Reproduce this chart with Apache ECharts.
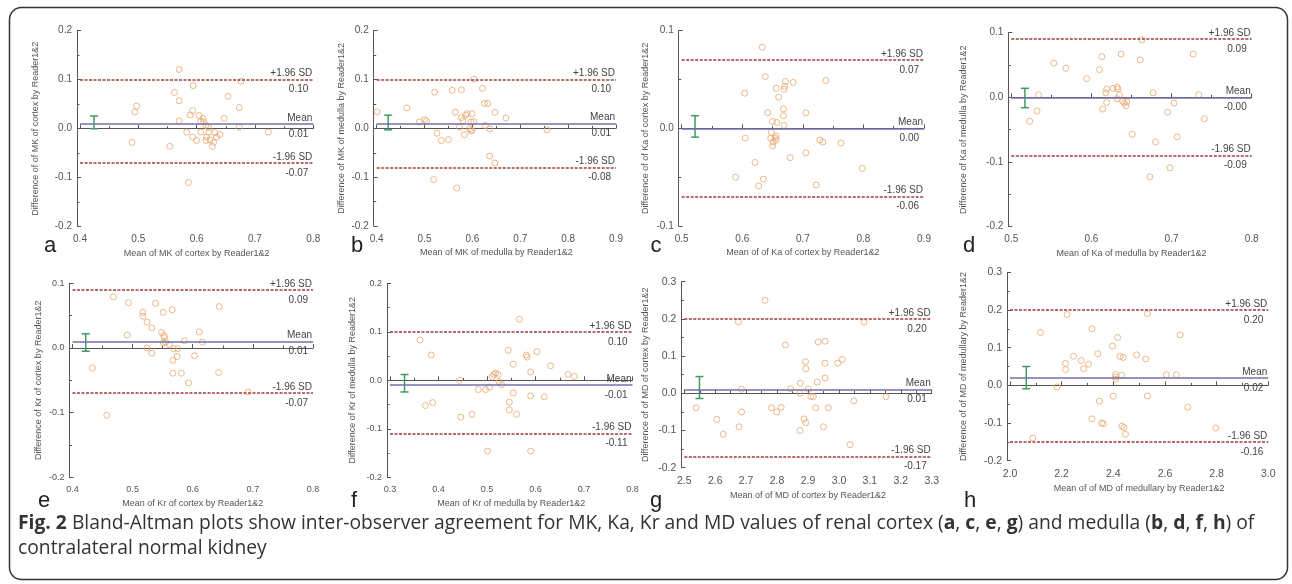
<!DOCTYPE html>
<html><head><meta charset="utf-8">
<script src="https://cdn.jsdelivr.net/npm/echarts@6/dist/echarts.min.js"></script>
<style>html,body{margin:0;padding:0;background:#fff}#c{width:1292px;height:584px}</style>
</head><body><div id="c"></div>
<script>
// ---------- DATA ----------
const panelLetters = ['a','b','c','d','e','f','g','h'];
const xAxisNames = ['Mean of MK of cortex by Reader1&2','Mean of MK of medulla by Reader1&2','Mean of of Ka of cortex by Reader1&2','Mean of Ka of medulla by Reader1&2','Mean of Kr of cortex by Reader1&2','Mean of Kr of medulla by Reader1&2','Mean of of MD of cortex by Reader1&2','Mean of of MD of medullary by Reader1&2'];
const yAxisNames = ['Difference of of MK of cortex by Reader1&2','Difference of MK of medulla by Reader1&2','Difference of of Ka of cortex by Reader1&2','Difference of Ka of medulla by Reader1&2','Difference of Kr of cortex by Reader1&2','Difference of Kr of medulla by Reader1&2','Difference of of MD of cortex by Reader1&2','Difference of of MD of medullary by Reader1&2'];
const xMin = [0.4,0.4,0.5,0.5,0.4,0.3,2.5,2.0];
const xMax = [0.8,0.9,0.9,0.8,0.8,0.8,3.3,3.0];
const xStep = [0.1,0.1,0.1,0.1,0.1,0.1,0.1,0.2];
const yMin = [-0.2,-0.2,-0.1,-0.2,-0.2,-0.2,-0.2,-0.2];
const yMax = [0.2,0.2,0.1,0.1,0.1,0.2,0.3,0.3];
const yStep = [0.1,0.1,0.1,0.1,0.1,0.1,0.1,0.1];

const upperSD  = [0.098, 0.103, 0.069, 0.089, 0.087, 0.103, 0.196, 0.201];
const meanDiff = [0.013, 0.012, 0.002, -0.001, 0.008, -0.006, 0.015, 0.024];
const lowerSD  = [-0.071, -0.079, -0.065, -0.089, -0.070, -0.114, -0.166, -0.155];
const upperLabel = ['0.10','0.10','0.07','0.09','0.09','0.10','0.20','0.20'];
const meanLabel  = ['0.01','0.01','0.00','-0.00','0.01','-0.01','0.01','0.02'];
const lowerLabel = ['-0.07','-0.08','-0.06','-0.09','-0.07','-0.11','-0.17','-0.16'];
const ciX    = [0.424, 0.424, 0.522, 0.517, 0.422, 0.330, 2.549, 2.063];
const ciLow  = [0.000, -0.003, -0.009, -0.016, -0.005, -0.024, -0.014, -0.009];
const ciHigh = [0.026, 0.027, 0.013, 0.014, 0.022, 0.012, 0.045, 0.050];

const ptsA = [[0.570,0.121],[0.497,0.046],[0.494,0.034],[0.489,-0.028],[0.562,0.074],[0.570,0.057],[0.594,0.088],[0.570,0.016],[0.593,0.037],[0.589,0.028],[0.604,0.027],[0.611,0.021],[0.607,0.015],[0.612,0.014],[0.616,0.007],[0.620,0.003],[0.583,-0.007],[0.593,-0.017],[0.600,-0.024],[0.607,-0.007],[0.617,-0.017],[0.621,-0.007],[0.623,-0.023],[0.629,-0.028],[0.631,-0.008],[0.640,-0.012],[0.634,-0.017],[0.627,-0.036],[0.616,-0.024],[0.554,-0.036],[0.586,-0.110],[0.647,0.021],[0.654,0.066],[0.673,0.043],[0.673,0.003],[0.676,0.097],[0.723,-0.007]];
const ptsB = [[0.401,0.034],[0.463,0.042],[0.489,0.013],[0.500,0.018],[0.504,0.015],[0.521,0.074],[0.526,-0.010],[0.535,-0.025],[0.550,-0.023],[0.558,0.078],[0.577,0.079],[0.564,0.033],[0.577,0.022],[0.580,0.016],[0.586,0.027],[0.589,0.030],[0.583,-0.013],[0.573,0.002],[0.599,0.030],[0.597,0.013],[0.594,-0.001],[0.597,-0.005],[0.599,-0.004],[0.603,0.014],[0.603,0.101],[0.621,0.082],[0.625,0.051],[0.632,0.051],[0.627,0.006],[0.636,-0.001],[0.647,0.033],[0.636,-0.057],[0.647,-0.071],[0.670,0.021],[0.519,-0.105],[0.567,-0.122],[0.756,-0.003]];
const ptsC = [[0.633,0.083],[0.638,0.053],[0.604,0.036],[0.605,-0.010],[0.642,0.016],[0.650,0.007],[0.657,0.006],[0.656,0.041],[0.660,0.032],[0.648,-0.004],[0.647,-0.010],[0.651,-0.014],[0.650,-0.018],[0.654,-0.010],[0.656,-0.008],[0.656,-0.012],[0.669,0.040],[0.670,0.043],[0.671,0.048],[0.668,0.020],[0.668,0.013],[0.669,0.003],[0.684,0.047],[0.679,-0.030],[0.705,0.016],[0.705,-0.025],[0.621,-0.035],[0.589,-0.050],[0.627,-0.059],[0.635,-0.052],[0.722,-0.058],[0.728,-0.012],[0.733,-0.014],[0.738,0.049],[0.763,-0.015],[0.798,-0.041]];
const ptsD = [[0.534,0.004],[0.532,-0.021],[0.523,-0.037],[0.553,0.053],[0.568,0.045],[0.594,0.029],[0.610,0.043],[0.613,0.063],[0.637,0.067],[0.619,0.013],[0.618,0.007],[0.627,0.014],[0.632,0.016],[0.633,0.013],[0.635,0.004],[0.632,-0.002],[0.639,-0.006],[0.641,-0.009],[0.643,-0.013],[0.644,-0.007],[0.619,-0.008],[0.614,-0.018],[0.661,0.058],[0.663,0.089],[0.651,-0.057],[0.677,0.007],[0.680,-0.069],[0.673,-0.123],[0.695,-0.023],[0.703,-0.009],[0.698,-0.109],[0.707,-0.061],[0.727,0.067],[0.734,0.004],[0.741,-0.033]];
const ptsE = [[0.468,0.079],[0.493,0.070],[0.491,0.020],[0.433,-0.031],[0.457,-0.104],[0.517,0.055],[0.517,0.049],[0.524,0.040],[0.532,0.031],[0.524,0.000],[0.532,-0.008],[0.538,0.069],[0.551,0.055],[0.566,0.059],[0.548,0.024],[0.552,0.019],[0.553,0.016],[0.551,0.008],[0.555,0.009],[0.561,0.005],[0.568,-0.001],[0.575,-0.001],[0.574,-0.013],[0.567,-0.019],[0.567,-0.039],[0.581,-0.039],[0.586,0.011],[0.593,-0.054],[0.603,-0.012],[0.611,0.025],[0.616,0.009],[0.643,-0.038],[0.644,0.064],[0.692,-0.068]];
const ptsF = [[0.362,0.083],[0.385,0.052],[0.373,-0.052],[0.388,-0.046],[0.443,0.000],[0.446,-0.076],[0.469,-0.070],[0.482,-0.019],[0.497,-0.019],[0.505,-0.014],[0.511,0.007],[0.514,0.012],[0.518,0.015],[0.523,0.012],[0.525,-0.003],[0.530,-0.009],[0.544,0.062],[0.554,0.033],[0.554,-0.026],[0.546,-0.045],[0.546,-0.061],[0.561,-0.070],[0.567,0.126],[0.581,0.052],[0.583,0.048],[0.590,0.017],[0.590,-0.032],[0.603,0.059],[0.618,-0.034],[0.631,0.030],[0.667,0.012],[0.680,0.008],[0.501,-0.146],[0.590,-0.146]];
const ptsG = [[2.761,0.250],[2.538,-0.039],[2.605,-0.070],[2.626,-0.110],[2.677,-0.090],[2.675,0.192],[2.685,0.011],[2.685,-0.050],[2.782,-0.039],[2.799,-0.050],[2.813,-0.038],[2.827,0.130],[2.844,0.012],[2.875,0.027],[2.874,0.000],[2.874,-0.100],[2.892,0.085],[2.893,0.066],[2.887,-0.069],[2.893,-0.079],[2.901,0.011],[2.909,-0.009],[2.917,-0.009],[2.925,-0.039],[2.930,0.030],[2.933,0.138],[2.955,0.140],[2.955,0.081],[2.955,0.041],[2.950,-0.090],[2.966,-0.039],[2.996,0.081],[3.011,0.091],[3.036,-0.138],[3.048,-0.020],[3.081,0.191],[3.152,-0.009]];
const ptsH = [[2.088,-0.140],[2.118,0.140],[2.182,-0.004],[2.221,0.188],[2.215,0.058],[2.215,0.042],[2.246,0.077],[2.276,0.066],[2.285,0.044],[2.304,0.056],[2.317,0.150],[2.317,-0.089],[2.340,0.084],[2.346,-0.042],[2.355,-0.100],[2.362,-0.102],[2.397,0.104],[2.400,-0.029],[2.409,0.029],[2.409,0.022],[2.409,0.016],[2.417,0.127],[2.426,0.077],[2.438,0.074],[2.432,0.027],[2.433,-0.108],[2.441,-0.112],[2.447,-0.130],[2.490,0.081],[2.526,0.070],[2.532,0.190],[2.532,-0.028],[2.605,0.028],[2.644,0.028],[2.659,0.134],[2.688,-0.058],[2.797,-0.113]];
const allPoints = [ptsA, ptsB, ptsC, ptsD, ptsE, ptsF, ptsG, ptsH];

const captionBold = 'Fig. 2';
const captionText1 = ' Bland-Altman plots show inter-observer agreement for MK, Ka, Kr and MD values of renal cortex (';
const cortexLetters = ['a','c','e','g'];
const medullaLetters = ['b','d','f','h'];
const captionText2 = 'contralateral normal kidney';

// ---------- LAYOUT ----------
const gridL = [80, 376.7, 681.7, 1011.3, 72.5, 390, 684.3, 1010];
const gridW = [233.3, 239.3, 242.3, 240.4, 240.5, 242.5, 247.4, 258.3];
const gridT = [30.7, 30.7, 30.7, 32.7, 283.3, 283.3, 281.7, 272.3];
const gridH = [196, 195.3, 195.3, 194, 194, 194, 186, 188.4];
const yNameGap = [37, 28, 28.7, 40.3, 26.5, 30, 31.3, 39];
const xNameGap = [18, 18, 18, 18, 17.5, 17.5, 19, 19];
const tickFont = [10, 10, 10, 10, 9, 9, 10.5, 10.5];
const letterPos = [[50,246],[357,246],[656,246],[969,246],[44,501],[354,501],[656,501],[970,501]];

const FONT = "'Liberation Sans', Arial, sans-serif";
const AX = '#555';
const grids = [], xAxes = [], yAxes = [], series = [], graphics = [];

for (let i = 0; i < 8; i++) {
  grids.push({left: gridL[i], top: gridT[i], width: gridW[i], height: gridH[i], containLabel: false});
  const common = {
    axisLine: {show: true, lineStyle: {color: AX, width: 1}},
    axisTick: {show: true, inside: true, length: 4, lineStyle: {color: AX}},
    minorTick: {show: true, splitNumber: 2, length: 2.5, lineStyle: {color: AX}},
    splitLine: {show: false}, minorSplitLine: {show: false},
    nameLocation: 'middle',
    nameTextStyle: {fontFamily: FONT, fontSize: 9, color: '#555'}
  };
  xAxes.push(Object.assign({}, common, {
    type: 'value', gridIndex: i, min: xMin[i], max: xMax[i], interval: xStep[i],
    offset: 4, name: xAxisNames[i], nameGap: xNameGap[i],
    axisLabel: {fontFamily: FONT, fontSize: tickFont[i], color: '#555', margin: 4,
      formatter: v => v.toFixed(1)}
  }));
  yAxes.push(Object.assign({}, common, {
    type: 'value', gridIndex: i, min: yMin[i], max: yMax[i], interval: yStep[i],
    offset: 3, name: yAxisNames[i], nameGap: yNameGap[i],
    axisLabel: {fontFamily: FONT, fontSize: tickFont[i], color: '#555', margin: 5,
      formatter: v => v.toFixed(1)}
  }));
  const lblTop = {show: true, fontFamily: FONT, fontSize: 10, color: '#444', position: 'insideEndTop', distance: 1};
  const lblBot = {show: true, fontFamily: FONT, fontSize: 10, color: '#444', position: 'insideEndBottom', distance: 5};
  const sdStyle = {color: '#9e3f3c', width: 1.6, type: [3, 1.5]};
  const meanStyle = {color: '#7272aa', width: 1.5, type: 'solid'};
  const hidden = {color: 'rgba(0,0,0,0)', width: 0.01, type: 'solid'};
  series.push({
    type: 'scatter', xAxisIndex: i, yAxisIndex: i, data: allPoints[i],
    symbol: 'circle', symbolSize: 6, silent: true,
    itemStyle: {color: 'rgba(255,255,255,0)', borderColor: '#e6a86e', borderWidth: 1},
    markLine: {
      silent: true, symbol: 'none', animation: false,
      data: [
        {yAxis: upperSD[i], lineStyle: sdStyle, label: Object.assign({}, lblTop, {formatter: '+1.96 SD'})},
        {yAxis: upperSD[i], lineStyle: hidden, label: Object.assign({}, lblBot, {formatter: upperLabel[i]})},
        {yAxis: meanDiff[i], lineStyle: meanStyle, label: Object.assign({}, lblTop, {formatter: 'Mean'})},
        {yAxis: meanDiff[i], lineStyle: hidden, label: Object.assign({}, lblBot, {formatter: meanLabel[i]})},
        {yAxis: lowerSD[i], lineStyle: sdStyle, label: Object.assign({}, lblTop, {formatter: '-1.96 SD'})},
        {yAxis: lowerSD[i], lineStyle: hidden, label: Object.assign({}, lblBot, {formatter: lowerLabel[i]})}
      ]
    },
    z: 3
  });
  series.push({
    type: 'custom', xAxisIndex: i, yAxisIndex: i, silent: true,
    data: [[ciX[i], ciLow[i], ciHigh[i]]],
    encode: {x: 0, y: [1, 2]},
    renderItem: (params, api) => {
      const lo = api.coord([api.value(0), api.value(1)]);
      const hi = api.coord([api.value(0), api.value(2)]);
      const w = 4, st = {stroke: '#3f9b5f', lineWidth: 1.5};
      return {type: 'group', children: [
        {type: 'line', shape: {x1: lo[0], y1: lo[1], x2: hi[0], y2: hi[1]}, style: st},
        {type: 'line', shape: {x1: lo[0]-w, y1: lo[1], x2: lo[0]+w, y2: lo[1]}, style: st},
        {type: 'line', shape: {x1: hi[0]-w, y1: hi[1], x2: hi[0]+w, y2: hi[1]}, style: st}
      ]};
    },
    z: 4
  });
  graphics.push({type: 'text', x: letterPos[i][0], y: letterPos[i][1],
    style: {text: panelLetters[i], font: '22px ' + FONT, fill: '#222', align: 'center', verticalAlign: 'middle'}});
}

// cover that clips the bottom of panel d's axis title (as in the source figure)
graphics.push({type: 'rect', shape: {x: 1000, y: 257, width: 285, height: 6}, style: {fill: '#fff'}, z: 100});
// figure frame
graphics.push({type: 'rect', shape: {x: 9.5, y: 7.5, width: 1278, height: 572, r: 12},
  style: {fill: 'none', stroke: '#333', lineWidth: 1.5}, z: 100});

const bl = arr => arr.map(l => '{b|' + l + '}').join(', ');
const captionRich = '{b|' + captionBold + '}' + captionText1 + bl(cortexLetters) + ') and medulla (' + bl(medullaLetters) + ') of\n' + captionText2;

const chart = echarts.init(document.getElementById('c'), null, {renderer: 'canvas'});
chart.setOption({
  animation: false,
  backgroundColor: '#fff',
  grid: grids, xAxis: xAxes, yAxis: yAxes, series: series,
  graphic: graphics,
  title: {
    left: 18, top: 511, padding: 0,
    text: captionRich,
    textStyle: {fontFamily: "'Open Sans'", fontSize: 19.3, fontWeight: 'normal', color: '#333', lineHeight: 25,
      rich: {b: {fontFamily: "'Open Sans'", fontSize: 19.3, fontWeight: 'bold', color: '#333', lineHeight: 25}}}
  }
});
</script></body></html>
